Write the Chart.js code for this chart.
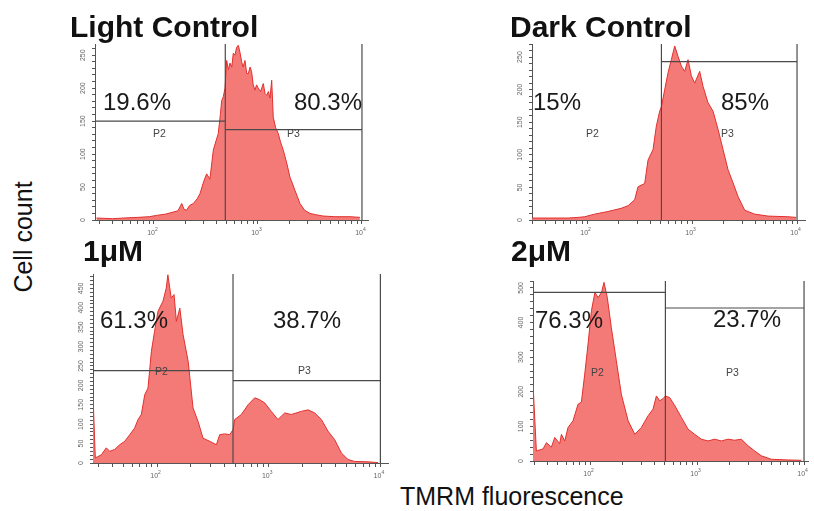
<!DOCTYPE html>
<html>
<head>
<meta charset="utf-8">
<title>TMRM fluorescence histograms</title>
<script src="https://cdn.jsdelivr.net/npm/chart.js@4.4.1/dist/chart.umd.min.js"></script>
<style>
  body { margin: 0; background: #fff; }
  #page { position: relative; width: 814px; height: 511px; overflow: hidden; font-family: "Liberation Sans", Arial, sans-serif; color: #111; }
  canvas { position: absolute; }
  .t { position: absolute; white-space: nowrap; line-height: 1; }
  .title { font-size: 30px; font-weight: bold; }
  .pct { font-size: 24px; color: #1a1a1a; }
  .gate { font-size: 10.5px; color: #444; }
  .axis { font-size: 25px; color: #111; }
</style>
</head>
<body>
<div id="page">
  <canvas id="light"></canvas>
  <canvas id="dark"></canvas>
  <canvas id="one"></canvas>
  <canvas id="two"></canvas>

  <div class="t title" style="left:70px; top:12px;">Light Control</div>
  <div class="t title" style="left:510px; top:12px;">Dark Control</div>
  <div class="t title" style="left:83px; top:236px;">1μM</div>
  <div class="t title" style="left:511px; top:236px;">2μM</div>

  <div class="t pct" style="left:103px; top:90px;">19.6%</div>
  <div class="t pct" style="left:294px; top:90px;">80.3%</div>
  <div class="t pct" style="left:533px; top:90px;">15%</div>
  <div class="t pct" style="left:721px; top:90px;">85%</div>
  <div class="t pct" style="left:100px; top:308px;">61.3%</div>
  <div class="t pct" style="left:273px; top:308px;">38.7%</div>
  <div class="t pct" style="left:535px; top:308px;">76.3%</div>
  <div class="t pct" style="left:713px; top:307px;">23.7%</div>

  <div class="t gate" style="left:153px; top:128px;">P2</div>
  <div class="t gate" style="left:287px; top:128px;">P3</div>
  <div class="t gate" style="left:586px; top:128px;">P2</div>
  <div class="t gate" style="left:721px; top:128px;">P3</div>
  <div class="t gate" style="left:155px; top:366px;">P2</div>
  <div class="t gate" style="left:298px; top:365px;">P3</div>
  <div class="t gate" style="left:591px; top:367px;">P2</div>
  <div class="t gate" style="left:726px; top:367px;">P3</div>

  <div class="t axis" style="left:23px; top:237px; transform: translate(-50%, -50%) rotate(-90deg);">Cell count</div>
  <div class="t axis" style="left:400px; top:484px;">TMRM fluorescence</div>
</div>

<script>
// fluorescence (x) and cell count (y)
const lightX = [28, 40, 51, 70, 90, 106, 130, 153, 170, 185, 195, 206, 220, 239, 260, 277, 300, 321, 345, 372, 395, 415, 435, 448, 464, 482, 500, 520, 538, 560, 579, 600, 624, 647, 670, 697, 720, 750, 780, 807, 840, 869, 900, 935, 970, 1007, 1060, 1125, 1170, 1213, 1260, 1305, 1355, 1403, 1480, 1568, 1650, 1751, 1900, 2031, 2150, 2268, 2400, 2535, 2800, 3162, 3600, 4246, 5500, 7670, 9550];
const lightY = [3, 2, 3, 4, 5, 7, 9, 12, 14, 25, 16, 15, 22, 25, 32, 40, 58, 70, 62, 106, 120, 131, 160, 181, 187, 200, 242, 228, 238, 232, 253, 250, 262, 265, 255, 240, 232, 242, 222, 222, 232, 225, 205, 197, 205, 200, 195, 207, 192, 189, 195, 185, 212, 156, 140, 131, 118, 106, 85, 65, 55, 45, 35, 25, 15, 10, 8, 6, 5, 5, 4];

const darkX = [30, 43, 66, 82, 95, 118, 158, 212, 246, 284, 306, 354, 381, 425, 457, 492, 511, 549, 591, 635, 684, 736, 791, 851, 916, 986, 1060, 1183, 1273, 1420, 1585, 1770, 1974, 2203, 2458, 2742, 3175, 3953, 5297, 8203, 9800];
const darkY = [3, 3, 3, 4, 5, 9, 13, 18, 22, 31, 51, 56, 92, 108, 144, 167, 174, 200, 226, 246, 267, 251, 236, 228, 246, 221, 210, 228, 205, 180, 167, 139, 108, 77, 57, 36, 15, 9, 6, 5, 4];

const oneX = [26.7, 28, 31.7, 35.1, 37.7, 41.8, 46.3, 51.4, 57, 63, 67.6, 72.3, 77.6, 83, 89, 95, 102, 113, 121, 125, 134, 142, 149, 160, 171, 190, 210, 233, 258, 296, 340, 364, 403, 448, 479, 496, 569, 653, 750, 830, 920, 1055, 1210, 1390, 1594, 1958, 2249, 2581, 2960, 3397, 3898, 4470, 5130, 5886, 7748, 9530];
const oneY = [176, 13, 21, 39, 30, 35, 47, 56, 73, 90, 112, 125, 176, 193, 288, 339, 391, 417, 451, 485, 425, 434, 365, 399, 331, 262, 142, 107, 64, 56, 47, 73, 75, 73, 86, 112, 125, 150, 168, 163, 155, 133, 112, 129, 125, 133, 137, 129, 112, 82, 60, 26, 9, 4, 3, 1];

const twoX = [29.3, 31.5, 36.4, 39.1, 43.5, 46.8, 52, 54, 58, 62.3, 69.3, 77.2, 83, 89.2, 95.8, 103, 111, 119, 128, 135, 145, 158, 176, 196, 227, 262, 302, 349, 388, 417, 448, 481, 506, 556, 619, 714, 824, 951, 1097, 1267, 1462, 1687, 1948, 2248, 2596, 2997, 3459, 3993, 4945, 7080, 9440];
const twoY = [224, 29, 35, 53, 40, 68, 50, 77, 58, 97, 116, 164, 170, 251, 338, 434, 487, 472, 487, 516, 472, 386, 290, 193, 116, 77, 97, 131, 150, 188, 174, 180, 188, 183, 160, 126, 92, 77, 63, 58, 63, 58, 63, 60, 63, 44, 29, 15, 5, 3, 2];

// gates: split point between P2/P3, and the height of each gate bar (null = not drawn)
const lightGate = { split: 485, p2: 150, p3: 137 };
const darkGate = { split: 511, p2: null, p3: 243 };
const oneGate = { split: 479, p2: 238, p3: 212 };
const twoGate = { split: 506, p2: 487, p3: 442 };
const gateEnd = 10000;

// tick marks and labels
const xTickValues = [30, 40, 50, 60, 70, 80, 90, 100, 200, 300, 400, 500, 600, 700, 800, 900, 1000, 2000, 3000, 4000, 5000, 6000, 7000, 8000, 9000, 10000];
const xTickLabels = [[100, '2'], [1000, '3'], [10000, '4']];
const yLabels250 = [0, 50, 100, 150, 200, 250];
const yLabels450 = [0, 50, 100, 150, 200, 250, 300, 350, 400, 450];
const yLabels500 = [0, 100, 200, 300, 400, 500];

const PAD_L = 30, PAD_T = 8, PAD_R = 10, PAD_B = 20;
const FONT = '"Liberation Sans", Arial, sans-serif';

// draws the tiny rotated count labels and the 10^n labels
const tickLabels = {
  id: 'tickLabels',
  afterDraw(chart, args, opts) {
    const { ctx, chartArea } = chart;
    const xs = chart.scales.x, ys = chart.scales.y;
    ctx.save();
    ctx.fillStyle = '#666';
    ctx.textBaseline = 'middle';
    ctx.font = '7px ' + FONT;
    ctx.textAlign = 'center';
    opts.yLabels.forEach(v => {
      ctx.save();
      ctx.translate(chartArea.left - 12, ys.getPixelForValue(v));
      ctx.rotate(-Math.PI / 2);
      ctx.fillText(String(v), 0, 0);
      ctx.restore();
    });
    opts.xLabels.forEach(([v, exp]) => {
      const px = xs.getPixelForValue(v);
      const py = chartArea.bottom + 13;
      ctx.font = '7px ' + FONT;
      ctx.textAlign = 'right';
      ctx.fillText('10', px + 1, py);
      ctx.font = '5px ' + FONT;
      ctx.textAlign = 'left';
      ctx.fillText(exp, px + 1, py - 3);
    });
    ctx.restore();
  }
};

function makePanel(id, area, xs, ys, range, gate, yLabels, yStep) {
  const canvas = document.getElementById(id);
  canvas.width = area.right - area.left + PAD_L + PAD_R;
  canvas.height = area.bottom - area.top + PAD_T + PAD_B;
  canvas.style.left = (area.left - PAD_L) + 'px';
  canvas.style.top = (area.top - PAD_T) + 'px';

  const gateLine = (pts) => ({
    data: pts,
    borderColor: '#4a4a4a',
    borderWidth: 1.2,
    pointRadius: 0,
    fill: false
  });

  const datasets = [
    gateLine([{ x: gate.split, y: 0 }, { x: gate.split, y: range.ymax }]),
    gateLine([{ x: gateEnd, y: 0 }, { x: gateEnd, y: range.ymax }])
  ];
  if (gate.p2 !== null) datasets.push(gateLine([{ x: range.xmin, y: gate.p2 }, { x: gate.split, y: gate.p2 }]));
  if (gate.p3 !== null) datasets.push(gateLine([{ x: gate.split, y: gate.p3 }, { x: gateEnd, y: gate.p3 }]));

  datasets.push({
    data: xs.map((x, i) => ({ x: x, y: ys[i] })),
    borderColor: '#e0302e',
    borderWidth: 1,
    backgroundColor: '#f47a77',
    pointRadius: 0,
    tension: 0,
    fill: 'origin'
  });

  new Chart(canvas, {
    type: 'line',
    data: { datasets: datasets },
    options: {
      responsive: false,
      animation: false,
      devicePixelRatio: 1,
      layout: { padding: { left: 0, top: PAD_T, right: PAD_R, bottom: 0 } },
      plugins: {
        legend: { display: false },
        tooltip: { enabled: false },
        tickLabels: { yLabels: yLabels, xLabels: xTickLabels }
      },
      scales: {
        x: {
          type: 'logarithmic',
          min: range.xmin,
          max: range.xmax,
          ticks: { display: false },
          grid: { drawOnChartArea: false, drawTicks: true, tickLength: 4, color: '#555' },
          border: { color: '#555', width: 1 },
          afterBuildTicks: s => { s.ticks = xTickValues.filter(v => v >= range.xmin && v <= range.xmax).map(v => ({ value: v })); },
          afterFit: s => { s.height = PAD_B; }
        },
        y: {
          type: 'linear',
          min: 0,
          max: range.ymax,
          ticks: { display: false },
          grid: { drawOnChartArea: false, drawTicks: true, tickLength: 3, color: '#555' },
          border: { color: '#555', width: 1 },
          // minor tick marks every yStep counts
          afterBuildTicks: s => {
            const t = [];
            for (let v = 0; v <= range.ymax; v += yStep) t.push({ value: v });
            s.ticks = t;
          },
          afterFit: s => { s.width = PAD_L; }
        }
      }
    },
    plugins: [tickLabels]
  });
}

makePanel('light', { left: 95, top: 44, right: 368, bottom: 220 }, lightX, lightY,
  { xmin: 27.1, xmax: 11430, ymax: 267 }, lightGate, yLabels250, 10);
makePanel('dark', { left: 532, top: 44, right: 805, bottom: 220 }, darkX, darkY,
  { xmin: 29.9, xmax: 11910, ymax: 270 }, darkGate, yLabels250, 10);
makePanel('one', { left: 93, top: 274, right: 388, bottom: 463 }, oneX, oneY,
  { xmin: 26.7, xmax: 11700, ymax: 487 }, oneGate, yLabels450, 10);
makePanel('two', { left: 533, top: 281, right: 808, bottom: 461 }, twoX, twoY,
  { xmin: 29.3, xmax: 10890, ymax: 520 }, twoGate, yLabels500, 20);
</script>
</body>
</html>
